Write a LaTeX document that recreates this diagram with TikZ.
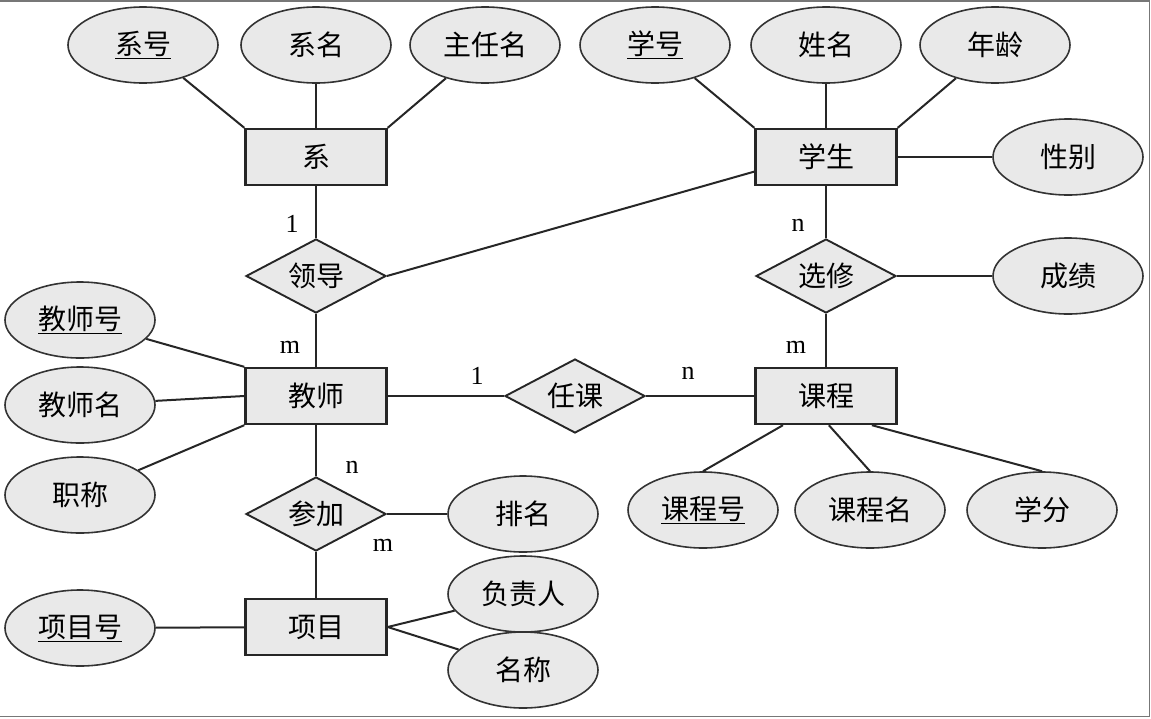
\documentclass[tikz,border=0pt]{standalone}
\usepackage{fontspec}
\setmainfont{Liberation Serif}
\newfontfamily\cjk{Noto Sans CJK SC}
\usetikzlibrary{shapes.geometric,calc}
\definecolor{boxfill}{HTML}{E9E9E9}
\definecolor{framegray}{HTML}{777777}
\tikzset{
  ent/.style={draw=black!85, line width=2.4pt, fill=boxfill, minimum width=141pt, minimum height=56pt, inner sep=0pt, font=\cjk\fontsize{28}{30}\selectfont},
  attr/.style={draw=black!80, line width=1.6pt, fill=boxfill, ellipse, minimum width=150pt, minimum height=76pt, inner sep=0pt, font=\cjk\fontsize{28}{30}\selectfont},
  rel/.style={draw=black!85, line width=1.9pt, fill=boxfill, diamond, aspect=1.9, minimum width=140pt, minimum height=74pt, inner sep=0pt, font=\cjk\fontsize{28}{30}\selectfont},
  conn/.style={draw=black!85, line width=2pt},
  card/.style={font=\fontsize{26}{28}\selectfont, inner sep=0pt}
}
\newcommand{\ul}[1]{\underline{#1}}
\begin{document}
\begin{tikzpicture}[x=1pt,y=-1pt]
\useasboundingbox (0,0) rectangle (1151,718);
\draw[framegray, line width=1.5pt] (0,0.75) -- (1149.5,0.75) -- (1149.5,716.5) -- (0,716.5);

% entities
\node[ent] (xi) at (316,157) {系};
\node[ent] (xs) at (826,157) {学生};
\node[ent] (js) at (316,396) {教师};
\node[ent] (kc) at (826,396) {课程};
\node[ent] (xm) at (316,627) {项目};

% relationships
\node[rel] (ld) at (316,276) {领导};
\node[rel] (xx) at (826,276) {选修};
\node[rel] (rk) at (575,396) {任课};
\node[rel] (cj) at (316,514) {参加};

% attributes
\node[attr] (xh) at (143,45) {\ul{系号}};
\node[attr] (xmg) at (316,45) {系名};
\node[attr] (zrm) at (485,45) {主任名};
\node[attr] (xueh) at (655,45) {\ul{学号}};
\node[attr] (xingm) at (826,45) {姓名};
\node[attr] (nl) at (995,45) {年龄};
\node[attr] (xb) at (1068,157) {性别};
\node[attr] (cjg) at (1068,276) {成绩};
\node[attr] (jsh) at (80,320) {\ul{教师号}};
\node[attr] (jsm) at (80,405) {教师名};
\node[attr] (zc) at (80,495) {职称};
\node[attr] (pm) at (523,514) {排名};
\node[attr] (kch) at (703,510) {\ul{课程号}};
\node[attr] (kcm) at (870,510) {课程名};
\node[attr] (xf) at (1042,510) {学分};
\node[attr] (xmh) at (80,628) {\ul{项目号}};
\node[attr] (fzr) at (523,594) {负责人};
\node[attr] (mc) at (523,670) {名称};

% connectors
\draw[conn] (xh) -- (xi.north west);
\draw[conn] (xmg) -- (xi.north);
\draw[conn] (zrm) -- (xi.north east);
\draw[conn] (xueh) -- (xs.north west);
\draw[conn] (xingm) -- (xs.north);
\draw[conn] (nl) -- (xs.north east);
\draw[conn] (xb) -- (xs.east);
\draw[conn] (xi) -- (ld);
\coordinate (xsw) at ($(xs.south west)!0.25!(xs.north west)$);
\draw[conn] (ld.east) -- (xsw);
\draw[conn] (ld) -- (js);
\draw[conn] (xs) -- (xx);
\draw[conn] (xx) -- (kc);
\draw[conn] (xx) -- (cjg);
\draw[conn] (jsh) -- (js.north west);
\draw[conn] (jsm) -- (js.west);
\draw[conn] (zc) -- (js.south west);
\draw[conn] (js) -- (rk);
\draw[conn] (rk) -- (kc);
\coordinate (kc1) at ($(kc.south west)!0.2!(kc.south east)$);
\coordinate (kc2) at ($(kc.south west)!0.52!(kc.south east)$);
\coordinate (kc3) at ($(kc.south west)!0.82!(kc.south east)$);
\draw[conn] (kc1) -- (kch.north);
\draw[conn] (kc2) -- (kcm.north);
\draw[conn] (kc3) -- (xf.north);
\draw[conn] (js) -- (cj);
\draw[conn] (cj) -- (xm);
\draw[conn] (cj) -- (pm);
\draw[conn] (xmh) -- (xm);
\draw[conn] (xm.east) -- (fzr);
\draw[conn] (xm.east) -- (mc);

% cardinalities
\node[card] (c1) at (292,224) {1};
\node[card] (c2) at (290,347) {m};
\node[card] (c3) at (798,225) {n};
\node[card] (c4) at (796,347) {m};
\node[card] (c5) at (477,376) {1};
\node[card] (c6) at (688,373) {n};
\node[card] (c7) at (352,467) {n};
\node[card] (c8) at (383,545) {m};
\end{tikzpicture}
\end{document}
